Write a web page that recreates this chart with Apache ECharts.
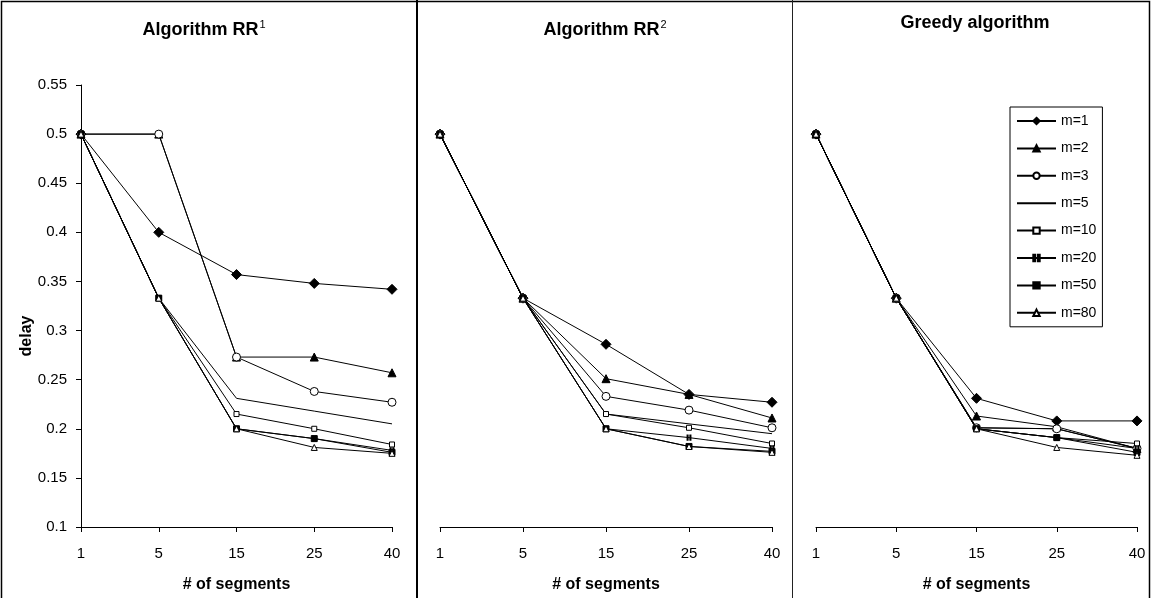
<!DOCTYPE html>
<html>
<head>
<meta charset="utf-8">
<script src="https://cdn.jsdelivr.net/npm/echarts@6/dist/echarts.min.js"></script>
<style>
html,body{margin:0;padding:0;background:#fff;}
#c{width:1152px;height:598px;}
</style>
</head>
<body>
<div id="c"></div>
<script>
// ---- data ----
var categories = ['1', '5', '15', '25', '40'];
var seriesNames = ['m=1', 'm=2', 'm=3', 'm=5', 'm=10', 'm=20', 'm=50', 'm=80'];
var yTicks = [0.1, 0.15, 0.2, 0.25, 0.3, 0.35, 0.4, 0.45, 0.5, 0.55];
var panelTitles = ['Algorithm RR', 'Algorithm RR', 'Greedy algorithm'];

// Algorithm RR^1
var rr1_m1  = [0.5, 0.4,   0.357, 0.348, 0.342];
var rr1_m2  = [0.5, 0.5,   0.273, 0.273, 0.257];
var rr1_m3  = [0.5, 0.5,   0.273, 0.238, 0.227];
var rr1_m5  = [0.5, 0.333, 0.231, 0.218, 0.205];
var rr1_m10 = [0.5, 0.333, 0.215, 0.200, 0.184];
var rr1_m20 = [0.5, 0.333, 0.200, 0.190, 0.178];
var rr1_m50 = [0.5, 0.333, 0.200, 0.190, 0.176];
var rr1_m80 = [0.5, 0.333, 0.200, 0.181, 0.175];

// Algorithm RR^2
var rr2_m1  = [0.5, 0.333, 0.286, 0.235, 0.227];
var rr2_m2  = [0.5, 0.333, 0.251, 0.235, 0.211];
var rr2_m3  = [0.5, 0.333, 0.233, 0.219, 0.201];
var rr2_m5  = [0.5, 0.333, 0.215, 0.205, 0.195];
var rr2_m10 = [0.5, 0.333, 0.215, 0.201, 0.185];
var rr2_m20 = [0.5, 0.333, 0.200, 0.191, 0.180];
var rr2_m50 = [0.5, 0.333, 0.200, 0.182, 0.177];
var rr2_m80 = [0.5, 0.333, 0.200, 0.182, 0.176];

// Greedy algorithm
var gr_m1  = [0.5, 0.333, 0.231, 0.208, 0.208];
var gr_m2  = [0.5, 0.333, 0.213, 0.202, 0.180];
var gr_m3  = [0.5, 0.333, 0.201, 0.200, 0.180];
var gr_m5  = [0.5, 0.333, 0.201, 0.200, 0.180];
var gr_m10 = [0.5, 0.333, 0.200, 0.191, 0.185];
var gr_m20 = [0.5, 0.333, 0.200, 0.191, 0.180];
var gr_m50 = [0.5, 0.333, 0.200, 0.191, 0.176];
var gr_m80 = [0.5, 0.333, 0.200, 0.181, 0.173];

var panels = [
  [rr1_m1, rr1_m2, rr1_m3, rr1_m5, rr1_m10, rr1_m20, rr1_m50, rr1_m80],
  [rr2_m1, rr2_m2, rr2_m3, rr2_m5, rr2_m10, rr2_m20, rr2_m50, rr2_m80],
  [gr_m1, gr_m2, gr_m3, gr_m5, gr_m10, gr_m20, gr_m50, gr_m80]
];

// ---- styles ----
var FONT = '"Liberation Sans", Arial, sans-serif';
var markers = [
  {symbol: 'diamond', size: 10, fill: '#000'},
  {symbol: 'triangle', size: 8, fill: '#000'},
  {symbol: 'circle', size: 8, fill: '#fff'},
  {symbol: 'none', size: 0, fill: '#000'},
  {symbol: 'rect', size: 5, fill: '#fff'},
  {symbol: 'path://M0,0H1V5H0Z M2.5,0H3.5V5H2.5Z', size: [4, 5], fill: '#000'},
  {symbol: 'rect', size: 6, fill: '#000'},
  {symbol: 'triangle', size: 6, fill: '#fff'}
];

var grids = [
  {left: 81, top: 85, width: 311, height: 448},
  {left: 440, top: 85, width: 332, height: 448},
  {left: 816, top: 85, width: 321, height: 448}
];

var xAxes = [], yAxes = [], series = [];
for (var p = 0; p < 3; p++) {
  xAxes.push({
    type: 'category', gridIndex: p, data: categories, boundaryGap: false,
    axisLine: {show: true, onZero: false, lineStyle: {color: '#000', width: 1}},
    axisTick: {show: true, length: 5, lineStyle: {color: '#000'}},
    axisLabel: {color: '#000', fontSize: 15, fontFamily: FONT, margin: 19},
    name: '# of segments', nameLocation: 'middle', nameGap: 50,
    nameTextStyle: {color: '#000', fontSize: 16, fontWeight: 'bold', fontFamily: FONT},
    splitLine: {show: false}
  });
  yAxes.push({
    type: 'value', gridIndex: p, min: 0.1, max: 0.55, interval: 0.05,
    axisLine: {show: p === 0, lineStyle: {color: '#000', width: 1}},
    axisTick: {show: p === 0, length: 5, lineStyle: {color: '#000'}},
    axisLabel: {show: p === 0, color: '#000', fontSize: 15, fontFamily: FONT, margin: 14,
      formatter: function (v) { return String(Math.round(v * 100) / 100); }},
    splitLine: {show: false}
  });
  for (var k = 0; k < seriesNames.length; k++) {
    var mk = markers[k];
    series.push({
      type: 'line', name: seriesNames[k], xAxisIndex: p, yAxisIndex: p,
      data: panels[p][k],
      symbol: mk.symbol, symbolSize: mk.size, showSymbol: mk.symbol !== 'none',
      lineStyle: {color: '#000', width: 1},
      itemStyle: {color: mk.fill, borderColor: '#000', borderWidth: 1},
      animation: false, silent: true, z: 3
    });
  }
}

var legendData = seriesNames.map(function (n, i) {
  if (markers[i].symbol === 'none') {
    return {name: n, itemStyle: {color: 'rgba(0,0,0,0)', borderColor: 'rgba(0,0,0,0)', borderWidth: 0}};
  }
  return {name: n};
});

var titleRich = {
  a: {fontSize: 18, fontWeight: 'bold', fontFamily: FONT, fill: '#000', lineHeight: 22},
  s: {fontSize: 11, fontFamily: FONT, fill: '#000', verticalAlign: 'top', lineHeight: 22, padding: [0, 0, 0, 1]}
};

var chart = echarts.init(document.getElementById('c'), null, {renderer: 'canvas'});
chart.setOption({
  backgroundColor: '#fff',
  animation: false,
  grid: grids,
  xAxis: xAxes,
  yAxis: yAxes,
  series: series,
  legend: {
    orient: 'vertical', left: 1010, top: 107,
    data: legendData,
    itemWidth: 39, itemHeight: 8, itemGap: 13.4,
    padding: [7, 6, 7, 6],
    borderColor: '#000', borderWidth: 1,
    textStyle: {color: '#000', fontSize: 14, fontFamily: FONT, lineHeight: 14},
    selectedMode: false
  },
  graphic: [
    {type: 'rect', shape: {x: 1.5, y: 1.5, width: 1148, height: 600}, style: {fill: 'none', stroke: '#000', lineWidth: 1.5}, silent: true},
    {type: 'line', shape: {x1: 417, y1: 0, x2: 417, y2: 598}, style: {stroke: '#000', lineWidth: 2}, silent: true},
    {type: 'line', shape: {x1: 792.5, y1: 0, x2: 792.5, y2: 598}, style: {stroke: '#222', lineWidth: 1}, silent: true},
    {type: 'text', x: 204, y: 30, style: {text: '{a|' + panelTitles[0] + '}{s|1}', rich: titleRich, align: 'center', verticalAlign: 'middle'}, silent: true},
    {type: 'text', x: 605, y: 30, style: {text: '{a|' + panelTitles[1] + '}{s|2}', rich: titleRich, align: 'center', verticalAlign: 'middle'}, silent: true},
    {type: 'text', x: 975, y: 23, style: {text: '{a|' + panelTitles[2] + '}', rich: titleRich, align: 'center', verticalAlign: 'middle'}, silent: true},
    {type: 'text', x: 27, y: 336, rotation: Math.PI / 2, style: {text: 'delay', fontSize: 16, fontWeight: 'bold', fontFamily: FONT, fill: '#000', align: 'center', verticalAlign: 'middle'}, silent: true}
  ]
});
</script>
</body>
</html>
